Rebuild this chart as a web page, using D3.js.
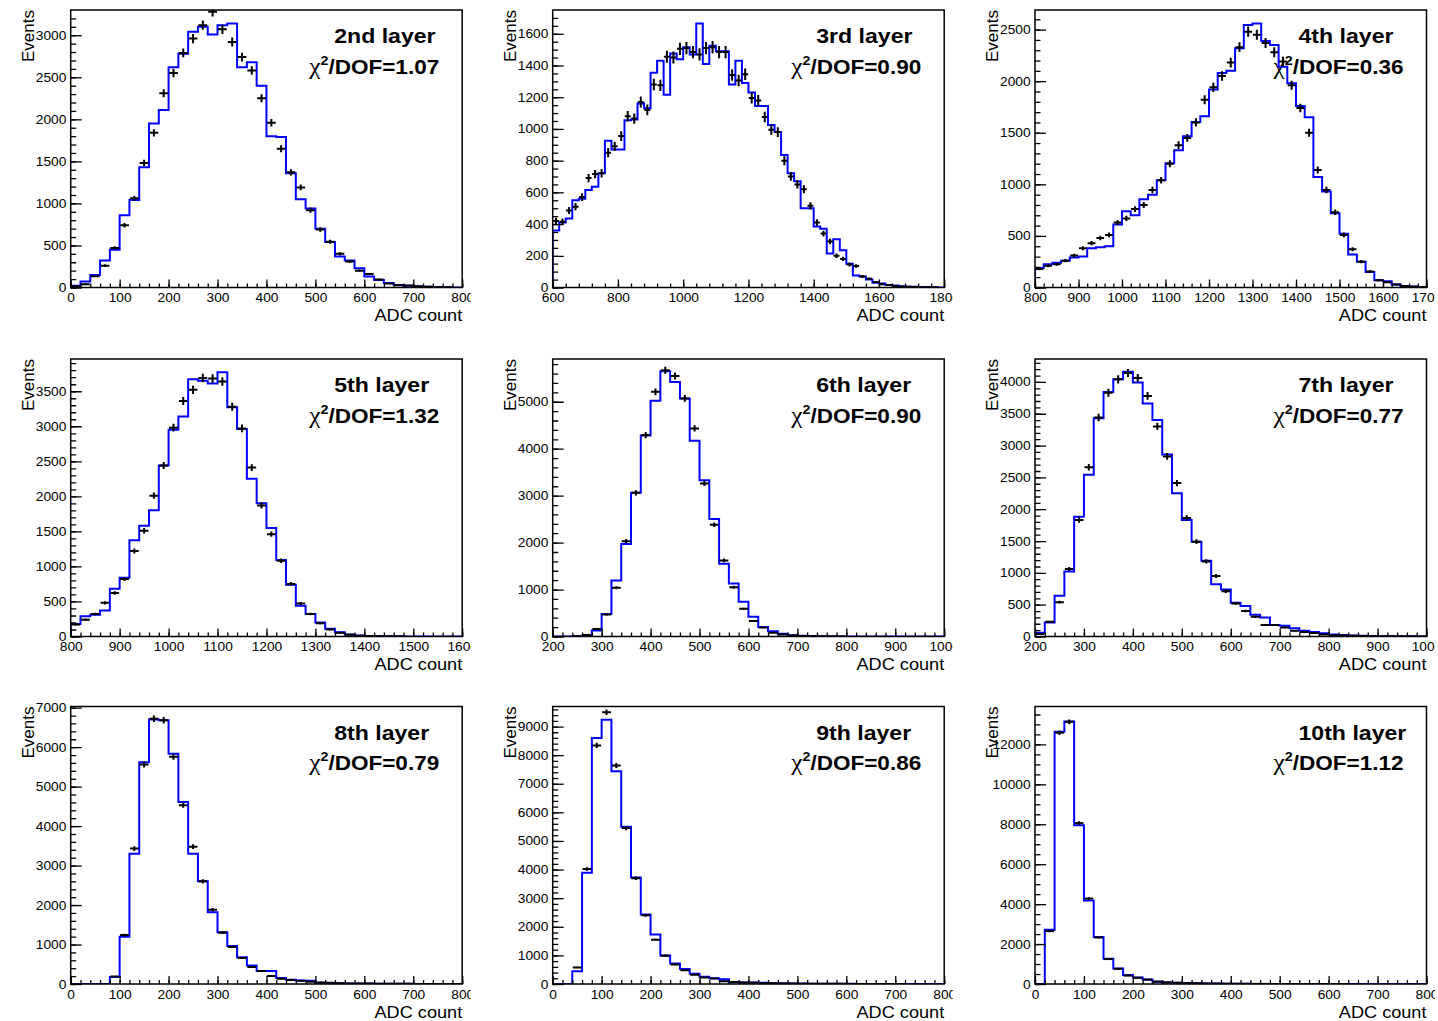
<!DOCTYPE html>
<html>
<head>
<meta charset="utf-8">
<script src="https://cdn.jsdelivr.net/npm/d3@7"></script>
<style>
  body { margin: 0; background: #fff; }
  svg { display: block; }
  text { font-family: "Liberation Sans", Arial, Helvetica, sans-serif; }
</style>
</head>
<body>
<svg id="chart" width="1438" height="1021"></svg>
<script>
//panel labels
const layerNames = ["2nd layer","3rd layer","4th layer","5th layer","6th layer","7th layer","8th layer","9th layer","10th layer"]
const chi2Values = ["1.07","0.90","0.36","1.32","0.90","0.77","0.79","0.86","1.12"]

//axis ranges and tick steps
const xStart = [0, 600, 800, 800, 200, 200, 0, 0, 0]
const xEnd   = [800, 1800, 1700, 1600, 1000, 1000, 800, 800, 800]
const yMax   = [3300, 1750, 2690, 3960, 5910, 4360, 7030, 9700, 13900]
const xMajor = [100, 200, 100, 100, 100, 100, 100, 100, 100]
const xMinor = [20, 40, 20, 20, 20, 20, 20, 20, 20]
const yMajor = [500, 200, 500, 500, 1000, 500, 1000, 1000, 2000]
const yMinor = [100, 50, 100, 100, 200, 100, 200, 200, 500]
const binWidth = 20

//simulation (blue histogram), one value per 20 ADC bin
const mc2  = [20,70,150,320,450,860,1040,1430,1950,2110,2620,2780,3040,3100,3010,3120,3140,2620,2680,2400,1800,1790,1360,1050,940,700,540,370,320,230,130,90,55,30,20,15,10,5,2,0]
const mc3  = [360,410,435,550,560,615,635,720,925,870,870,1055,1060,1160,1130,1355,1430,1215,1475,1440,1515,1470,1665,1410,1525,1490,1490,1280,1430,1290,1230,1145,1145,1025,980,835,720,670,500,500,385,370,215,305,235,150,75,70,50,30,25,15,12,8,5,5,3,2,1,0]
const mc4  = [190,225,240,260,290,300,380,390,400,610,740,700,855,900,1040,1205,1330,1465,1605,1660,1920,2080,2100,2320,2545,2560,2390,2350,2140,1980,1760,1650,1070,930,720,520,320,250,150,70,60,30,15,10,5]
const mc5  = [180,290,310,370,680,840,1375,1580,1800,2440,2950,3140,3670,3650,3610,3770,3270,2960,2250,1900,1550,1090,740,440,320,200,110,60,30,15,8,5,3,2,1,1,0,0,0,0]
const mc6  = [0,0,5,15,130,480,1190,1970,3060,4280,5020,5650,5420,5070,4170,3330,2500,1550,1130,740,420,200,110,60,25,15,8,5,3,2,1,1,0,0,0,0,0,0,0,0]
const mc7  = [60,220,640,1020,1880,2540,3430,3840,4040,4160,3990,3660,3400,2860,2250,1830,1490,1190,820,740,530,480,340,300,180,170,130,90,70,50,30,22,15,10,8,5,4,3,2,1]
const mc8  = [0,0,0,0,180,1200,3300,5620,6700,6680,5830,4610,3300,2600,1820,1310,960,680,470,330,330,150,110,90,80,30,25,20,15,12,10,8,6,5,4,3,2,2,1,1]
const mc9  = [0,0,450,3890,8600,9240,7440,5500,3720,2430,1730,1000,720,520,360,250,200,170,60,50,50,40,30,25,20,15,12,10,8,6,5,4,3,2,2,1,1,1,0,0]
const mc10 = [0,2720,12640,13150,7950,4180,2350,1260,780,450,330,230,110,80,60,45,35,25,20,15,10,8,6,5,4,3,2,2,1,1,1,1,0,0,0,0,0,0,0,0]

//measured data (black crosses)
const data2  = [15,40,135,260,470,740,1060,1480,1840,2310,2550,2790,2960,3120,3280,3070,2920,2740,2580,2250,1960,1650,1370,1190,920,690,545,400,310,200,160,95,48,28,24,15,8,4,2,0]
const data3  = [420,415,485,510,570,690,715,720,850,890,955,1080,1065,1170,1120,1280,1275,1455,1450,1505,1510,1485,1470,1510,1515,1485,1485,1340,1305,1345,1195,1180,1075,995,980,800,700,650,620,515,410,340,290,200,180,145,135,70,55,35,20,15,10,6,4,3,2,1,1,0]
const data4  = [180,210,225,260,310,380,430,480,510,630,670,760,800,945,1040,1200,1380,1450,1600,1820,1940,2050,2180,2330,2480,2450,2370,2280,2190,1960,1740,1500,1140,945,730,510,370,250,155,70,50,30,15,8,4]
const data5  = [170,240,320,480,620,820,1220,1510,2010,2440,2980,3360,3520,3690,3680,3640,3280,2970,2410,1870,1460,1080,750,470,320,190,100,55,25,12,6,3,2,1,0,0,0,0,0,0]
const data6  = [0,0,5,30,160,470,1040,2030,3060,4290,5210,5670,5550,5070,4430,3260,2380,1620,1050,590,330,190,80,40,20,10,5,3,2,1,0,0,0,0,0,0,0,0,0,0]
const data7  = [40,230,540,1060,1830,2660,3440,3830,4040,4140,4060,3780,3300,2830,2410,1860,1490,1180,950,710,520,400,310,180,180,140,90,70,55,30,20,15,10,8,5,4,3,2,1,1]
const data8  = [0,0,0,0,190,1240,3430,5560,6720,6680,5760,4530,3480,2600,1880,1300,940,660,430,330,200,130,100,80,60,40,30,20,15,12,10,8,6,5,4,3,2,2,1,1]
const data9  = [0,0,580,4020,8340,9500,7640,5450,3700,2400,1550,990,680,480,320,230,190,100,70,55,40,30,25,20,15,12,10,8,6,5,4,3,2,2,1,1,0,0,0,0]
const data10 = [0,2650,12580,13130,8060,4280,2330,1250,760,420,310,220,120,80,60,45,35,25,20,15,10,8,6,5,4,3,2,2,1,1,1,1,0,0,0,0,0,0,0,0]

const mcSets = [mc2, mc3, mc4, mc5, mc6, mc7, mc8, mc9, mc10]
const dataSets = [data2, data3, data4, data5, data6, data7, data8, data9, data10]

//layout of the 3x3 grid
const colLeft = [70.7, 552.7, 1035]
const rowTop = [10, 359, 706.5]
const frameW = 391.5, frameH = 277.5
const stretch = 1.1   //the picture is a bit wider than tall, text looks stretched

const svg = d3.select('#chart')

for (let i = 0; i < 9; i++) drawPanel(i)

function drawPanel(i) {
    const left = colLeft[i % 3], top = rowTop[Math.floor(i / 3)]
    const right = left + frameW, bottom = top + frameH

    const x = d3.scaleLinear().domain([xStart[i], xEnd[i]]).range([left, right])
    const y = d3.scaleLinear().domain([0, yMax[i]]).range([bottom, top])

    //clip for the whole pad (cuts the last x label like ROOT does)
    svg.append('clipPath').attr('id', 'pad' + i)
      .append('rect').attr('x', left - 75).attr('y', top - 10).attr('width', frameW + 83.5).attr('height', frameH + 60)
    svg.append('clipPath').attr('id', 'frame' + i)
      .append('rect').attr('x', left).attr('y', top).attr('width', frameW).attr('height', frameH)

    const g = svg.append('g').attr('clip-path', `url(#pad${i})`)

    //title and chi2 text (drawn under the histograms)
    g.append('text')
      .attr('transform', `translate(${left + 263.5},${top + 33.3}) scale(${stretch},1)`)
      .style('font-size', '21px').style('font-weight', 'bold')
      .text(layerNames[i])

    const chi = g.append('text')
      .attr('transform', `translate(${left + 238.5},${top + 63.8}) scale(${stretch},1)`)
      .style('font-size', '20.5px').style('font-weight', 'bold')
    chi.append('tspan').style('font-family', '"Liberation Serif", "DejaVu Serif", serif')
      .style('font-weight', 'normal').style('font-size', '23px').text('χ')
    chi.append('tspan').attr('dy', -9).style('font-size', '13px').text('2')
    chi.append('tspan').attr('dy', 9).text('/DOF=' + chi2Values[i])

    const hist = g.append('g').attr('clip-path', `url(#frame${i})`)

    //blue step histogram
    const mc = mcSets[i]
    const steps = mc.map((v, k) => [xStart[i] + k * binWidth, v])
    steps.push([xStart[i] + mc.length * binWidth, mc[mc.length - 1]])
    const stepLine = d3.line().x(d => x(d[0])).y(d => y(d[1])).curve(d3.curveStepAfter)
    const pts = [[xStart[i], 0]].concat(steps)
    hist.append('path')
      .attr('d', stepLine(pts))
      .attr('fill', 'none').attr('stroke', '#0000ff').attr('stroke-width', 2)

    //black data crosses with sqrt(N) errors
    const dat = dataSets[i].map((v, k) => ({c: xStart[i] + (k + 0.5) * binWidth, v: v}))
      .filter(d => d.v > 0)
    const bx = x(xStart[i] + binWidth) - x(xStart[i])
    const cross = hist.append('g').attr('stroke', '#000').attr('stroke-width', 2)
    cross.selectAll('.hbar').data(dat).join('line').attr('class', 'hbar')
      .attr('x1', d => x(d.c) - bx * 0.45).attr('x2', d => x(d.c) + bx * 0.45)
      .attr('y1', d => y(d.v)).attr('y2', d => y(d.v))
    cross.selectAll('.vbar').data(dat).join('line').attr('class', 'vbar')
      .attr('x1', d => x(d.c)).attr('x2', d => x(d.c))
      .attr('y1', d => y(d.v - Math.sqrt(d.v))).attr('y2', d => y(d.v + Math.sqrt(d.v)))

    //frame
    g.append('rect').attr('x', left).attr('y', top).attr('width', frameW).attr('height', frameH)
      .attr('fill', 'none').attr('stroke', '#000').attr('stroke-width', 1.5)

    //axes, ticks pointing inside
    const xTicks = d3.range(xStart[i], xEnd[i] + 0.1, xMajor[i])
    const xMin = d3.range(xStart[i], xEnd[i] + 0.1, xMinor[i])
    const yTicks = d3.range(0, yMax[i], yMajor[i])
    const yMin = d3.range(0, yMax[i], yMinor[i])

    const xAxisMinor = g.append('g').attr('transform', `translate(0,${bottom})`)
      .call(d3.axisBottom(x).tickValues(xMin).tickSize(-4).tickFormat(''))
    const xAxis = g.append('g').attr('transform', `translate(0,${bottom})`)
      .call(d3.axisBottom(x).tickValues(xTicks).tickSize(-8).tickPadding(6).tickFormat(d3.format('d')))
    const yAxisMinor = g.append('g').attr('transform', `translate(${left},0)`)
      .call(d3.axisLeft(y).tickValues(yMin).tickSize(-5.5).tickFormat(''))
    const yAxis = g.append('g').attr('transform', `translate(${left},0)`)
      .call(d3.axisLeft(y).tickValues(yTicks).tickSize(-11).tickPadding(4).tickFormat(d3.format('d')))

    ;[xAxisMinor, xAxis, yAxisMinor, yAxis].forEach(a => {
        a.select('.domain').remove()
        a.selectAll('line').attr('stroke', '#000').attr('stroke-width', 1.3)
        a.selectAll('text')
          .attr('fill', '#000')
          .style('font-size', '12.5px')
          .style('font-family', '"Liberation Sans", Arial, sans-serif')
          .attr('transform', `scale(${stretch},1)`)
    })

    //axis titles
    g.append('text')
      .attr('transform', `translate(${right},${bottom + 33.5}) scale(${stretch},1)`)
      .attr('text-anchor', 'end')
      .style('font-size', '16.5px')
      .text('ADC count')

    g.append('text')
      .attr('transform', `translate(${left - 37},${top}) rotate(-90)`)
      .attr('text-anchor', 'end')
      .style('font-size', '17px')
      .text('Events')
}
</script>
</body>
</html>
